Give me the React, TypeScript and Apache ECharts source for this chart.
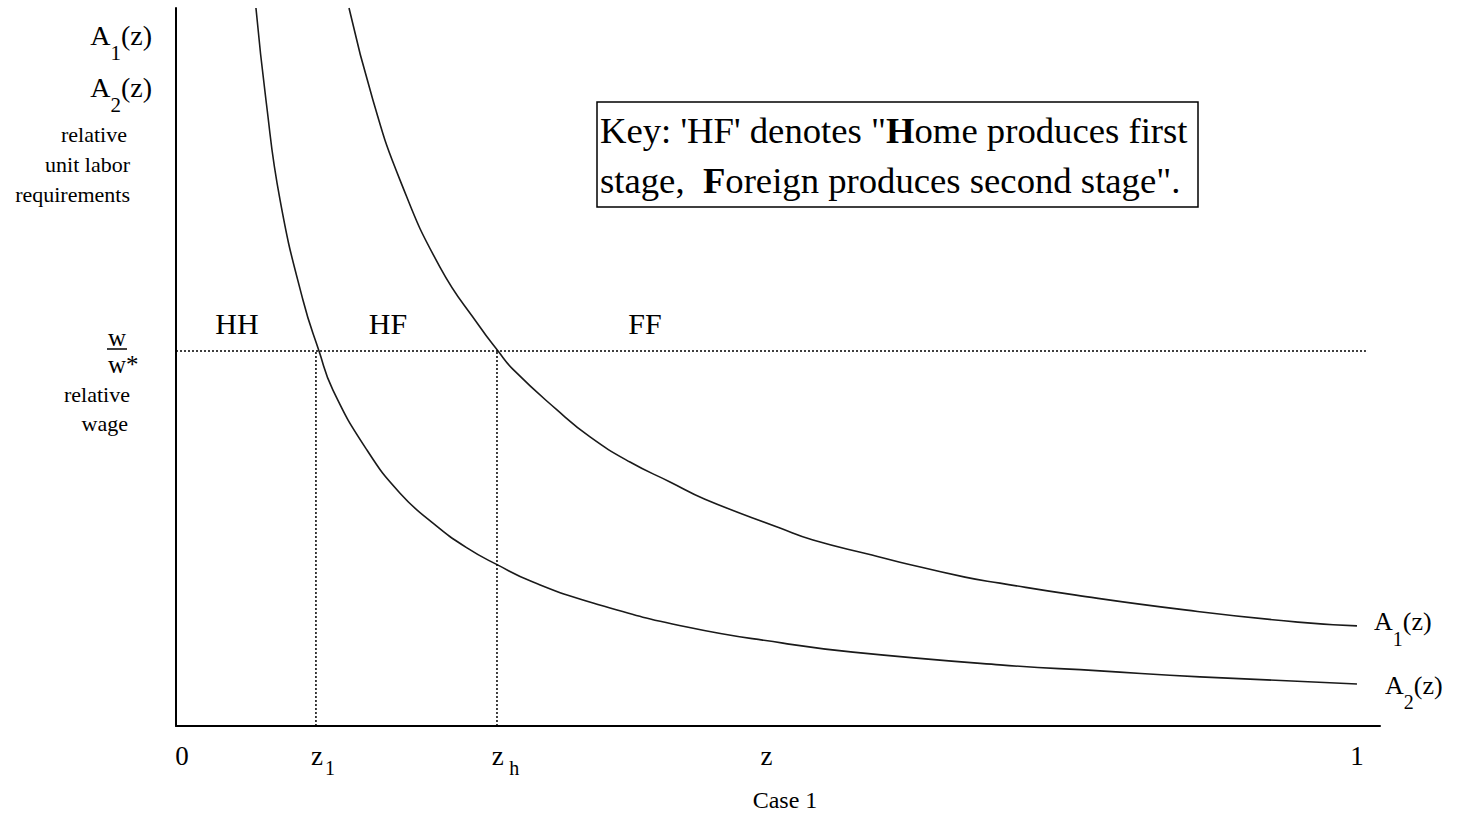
import React, { useEffect, useRef } from "react";
import * as echarts from "echarts";

const FONT = "'Liberation Serif', 'Times New Roman', Times, serif";

// Curve A1(z): upper curve
const a1Z = [0.1465, 0.1668, 0.1897, 0.2235, 0.2574, 0.2727, 0.2854, 0.3226, 0.3506, 0.3844, 0.4183, 0.4479, 0.5114, 0.5394, 0.5893, 0.613, 0.6681, 0.6977, 0.7621, 0.8561, 0.95, 1.0];
const a1Y = [1.915, 1.669, 1.456, 1.224, 1.064, 1.0, 0.951, 0.843, 0.771, 0.704, 0.651, 0.605, 0.528, 0.496, 0.456, 0.437, 0.397, 0.381, 0.349, 0.309, 0.277, 0.267];

// Curve A2(z): lower curve
const a2Z = [0.0677, 0.0762, 0.0881, 0.1075, 0.1211, 0.1329, 0.1617, 0.1897, 0.2176, 0.2464, 0.2727, 0.3023, 0.3531, 0.4327, 0.514, 0.5732, 0.6977, 0.7824, 0.8671, 1.0];
const a2Y = [1.915, 1.669, 1.403, 1.136, 1.0, 0.896, 0.736, 0.621, 0.541, 0.475, 0.429, 0.384, 0.328, 0.264, 0.221, 0.197, 0.163, 0.147, 0.131, 0.112];

const zCuts = [0.1185, 0.2718]; // z_1, z_h
const relWage = 1; // w / w*
const wageLineEnd = 1.0076;

const xTickValues = [0, 0.1185, 0.2718, 0.5, 1];
const xTickLabels = ["{zero|0}", "{zp|z}{sub|1}", "{zh|z} {sub|h}", "{m|z}", "{m|1}"];

const regionLabels = ["HH", "HF", "FF"];

const X_MAX = 1.0195;
const Y_MAX = 1.915;

export default function App() {
  const ref = useRef<HTMLDivElement>(null);

  useEffect(() => {
    if (!ref.current) return;
    document.body.style.margin = "0";
    const chart = echarts.init(ref.current, undefined, { renderer: "svg" });

    const pair = (zs: number[], ys: number[]) => zs.map((z, i) => [z, ys[i]]);

    const tickRich = {
      m: { fontSize: 27, lineHeight: 44, fontFamily: FONT, color: "#000" },
      zero: { fontSize: 27, lineHeight: 44, fontFamily: FONT, color: "#000", padding: [0, 0, 0, 12] },
      zp: { fontSize: 27, lineHeight: 44, fontFamily: FONT, color: "#000", padding: [0, 0, 0, 14] },
      zh: { fontSize: 27, lineHeight: 44, fontFamily: FONT, color: "#000", padding: [0, 0, 0, 17] },
      sub: { fontSize: 20, lineHeight: 20, fontFamily: FONT, color: "#000", verticalAlign: "bottom", padding: [0, 0, 0, 2] },
    };

    const aRichLeft = {
      a: { fontSize: 28, lineHeight: 56, fontFamily: FONT, color: "#000" },
      s: { fontSize: 21, lineHeight: 21, fontFamily: FONT, color: "#000", verticalAlign: "bottom" },
    };
    const aRichRight = {
      a: { fontSize: 26, lineHeight: 54, fontFamily: FONT, color: "#000" },
      s: { fontSize: 20, lineHeight: 20, fontFamily: FONT, color: "#000", verticalAlign: "bottom" },
    };

    const dotted = { color: "#000", width: 1.5, type: [2, 2] as number[] };

    const smallText = (text: string, x: number, y: number, align = "right", size = 22, lh?: number) => ({
      type: "text",
      x,
      y,
      silent: true,
      style: {
        text,
        fontSize: size,
        fontFamily: FONT,
        fill: "#000",
        align,
        verticalAlign: "middle",
        ...(lh ? { lineHeight: lh } : {}),
      },
    });

    const regionX = [237, 388, 645];

    chart.setOption({
      animation: false,
      backgroundColor: "#fff",
      grid: { left: 176, right: 78, top: 8, bottom: 90, containLabel: false, outerBoundsMode: "none" },
      xAxis: {
        type: "value",
        min: 0,
        max: X_MAX,
        axisLine: { show: true, onZero: false, lineStyle: { color: "#000", width: 2 } },
        axisTick: { show: false },
        splitLine: { show: false },
        axisLabel: {
          customValues: xTickValues,
          showMinLabel: true,
          showMaxLabel: true,
          hideOverlap: false,
          margin: 8,
          formatter: (v: number) => {
            const i = xTickValues.findIndex((t) => Math.abs(t - v) < 1e-6);
            return i >= 0 ? xTickLabels[i] : "";
          },
          rich: tickRich,
        },
      },
      yAxis: {
        type: "value",
        min: 0,
        max: Y_MAX,
        axisLine: { show: true, onZero: false, lineStyle: { color: "#000", width: 2 } },
        axisTick: { show: false },
        axisLabel: { show: false },
        splitLine: { show: false },
      },
      series: [
        {
          name: "A1(z)",
          type: "line",
          data: pair(a1Z, a1Y),
          smooth: 0.5,
          symbol: "none",
          lineStyle: { color: "#1a1a1a", width: 1.6 },
          endLabel: {
            show: true,
            formatter: "{a|A}{s|1}{a|(z)}",
            distance: 17,
            offset: [0, -4],
            rich: aRichRight,
          },
          silent: true,
        },
        {
          name: "A2(z)",
          type: "line",
          data: pair(a2Z, a2Y),
          smooth: 0.5,
          symbol: "none",
          lineStyle: { color: "#1a1a1a", width: 1.6 },
          endLabel: {
            show: true,
            formatter: "{a|A}{s|2}{a|(z)}",
            distance: 28,
            offset: [0, 1],
            rich: aRichRight,
          },
          silent: true,
        },
        {
          name: "relative wage",
          type: "line",
          data: [[0, relWage], [wageLineEnd, relWage]],
          symbol: "none",
          lineStyle: dotted,
          silent: true,
        },
        {
          name: "z1",
          type: "line",
          data: [[zCuts[0], 0], [zCuts[0], relWage]],
          symbol: "none",
          lineStyle: dotted,
          silent: true,
        },
        {
          name: "zh",
          type: "line",
          data: [[zCuts[1], 0], [zCuts[1], relWage]],
          symbol: "none",
          lineStyle: dotted,
          silent: true,
        },
      ],
      graphic: [
        {
          type: "text",
          x: 152,
          y: 35.5,
          silent: true,
          style: { text: "{a|A}{s|1}{a|(z)}", rich: aRichLeft, align: "right", verticalAlign: "middle" },
        },
        {
          type: "text",
          x: 152,
          y: 87.5,
          silent: true,
          style: { text: "{a|A}{s|2}{a|(z)}", rich: aRichLeft, align: "right", verticalAlign: "middle" },
        },
        smallText("relative", 127, 134),
        smallText("unit labor", 130, 164),
        smallText("requirements", 130, 194),
        smallText("w", 108, 337, "left", 25, 20),
        {
          type: "line",
          silent: true,
          shape: { x1: 107, y1: 349, x2: 127, y2: 349 },
          style: { stroke: "#000", lineWidth: 1.5 },
        },
        smallText("w*", 108, 364, "left", 25, 20),
        smallText("relative", 130, 394),
        smallText("wage", 128, 423),
        ...regionLabels.map((t, i) => smallText(t, regionX[i], 323, "center", 30)),
        {
          type: "rect",
          silent: true,
          shape: { x: 597, y: 102, width: 601, height: 105 },
          style: { stroke: "#000", lineWidth: 1.5, fill: "#fff" },
          z: 10,
        },
        {
          type: "text",
          x: 600,
          y: 105.5,
          silent: true,
          z: 11,
          style: {
            text: "Key: 'HF' denotes \"{b|H}ome produces first\nstage,  {b|F}oreign produces second stage\".",
            fontSize: 36.7,
            fontFamily: FONT,
            lineHeight: 50,
            fill: "#000",
            align: "left",
            verticalAlign: "top",
            rich: { b: { fontSize: 36.7, fontFamily: FONT, fontWeight: "bold", lineHeight: 50, color: "#000" } },
          },
        },
        smallText("Case 1", 785, 800, "center", 24, 24),
      ],
    });

    return () => chart.dispose();
  }, []);

  return <div ref={ref} style={{ width: 1458, height: 816 }} />;
}
